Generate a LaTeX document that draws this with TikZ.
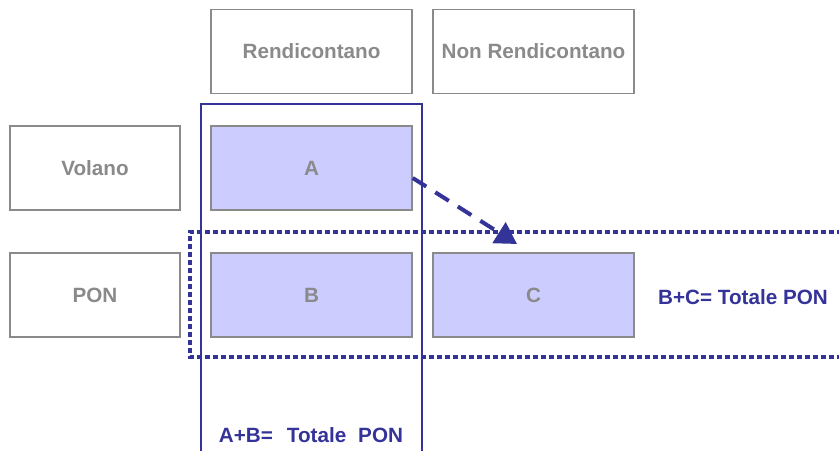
\documentclass[tikz,border=0pt]{standalone}
\usepackage{fontspec}
\setmainfont{Liberation Sans}
\usepackage{tikz}
\usetikzlibrary{arrows.meta}
\definecolor{bx}{HTML}{8A8A8A}
\definecolor{lb}{HTML}{CCCCFF}
\definecolor{nb}{HTML}{333399}
\tikzset{
cell/.style={draw=bx,line width=1.1pt,minimum width=150.75pt,minimum height=63pt,inner sep=0pt,text=bx,font=\fontsize{15.5}{18}\selectfont\bfseries},
lcell/.style={cell,minimum width=127.5pt},
tot/.style={text=nb,font=\fontsize{15.5}{18}\selectfont\bfseries}
}

\begin{document}
\begin{tikzpicture}[x=0.75pt,y=-0.75pt]
\useasboundingbox (0,0) rectangle (839,450);
\node[cell] (rend) at (311.5,51.5) {Rendicontano};
\node[cell] (nonrend) at (533.5,51.5) {Non Rendicontano};
\node[lcell] (volano) at (95,168) {Volano};
\node[lcell] (pon) at (95,295) {PON};
\node[cell,fill=lb] (a) at (311.5,168) {A};
\node[cell,fill=lb] (b) at (311.5,295) {B};
\node[cell,fill=lb] (c) at (533.5,295) {C};
\draw[nb,line width=1.1pt] (201,455) -- (201,104) -- (422,104) -- (422,455);
\draw[nb,line width=3.5pt,dash pattern=on 3.6pt off 2.4pt] (850,232) -- (190,232) -- (190,357) -- (850,357);
\coordinate (tgt) at (517,244);
\draw[nb,line width=3pt,dash pattern=on 12pt off 8pt,-{Triangle[length=16pt,width=18pt]}] ([yshift=-7.5pt]a.east) -- (tgt);
\node[tot] (bc) at (743,297) {B+C= Totale PON};
\node[tot] (ab) at (311,435) {A+B=\hspace{10.5pt}Totale\hspace{9pt}PON};
\end{tikzpicture}
\end{document}
